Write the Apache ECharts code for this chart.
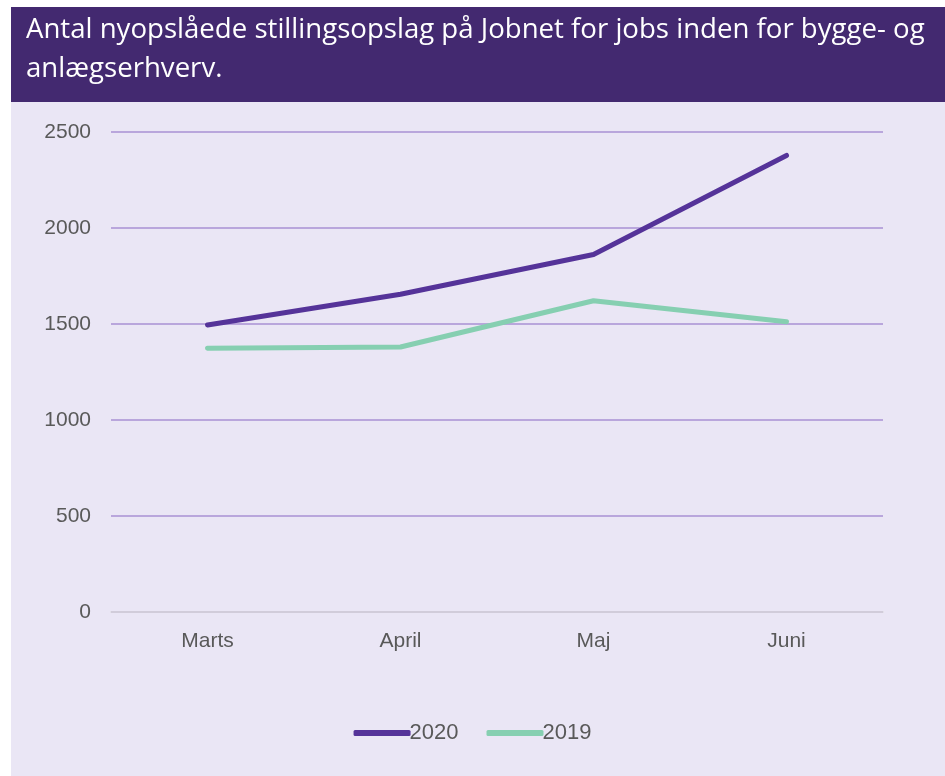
<!DOCTYPE html>
<html><head><meta charset="utf-8">
<script src="https://cdn.jsdelivr.net/npm/echarts@6/dist/echarts.min.js"></script>
<style>html,body{margin:0;padding:0;background:#fff;}#c{width:945px;height:776px;}</style>
</head><body><div id="c"></div>
<script>
const categories = ['Marts', 'April', 'Maj', 'Juni'];
const series2020 = [1495, 1655, 1862, 2378];
const series2019 = [1374, 1380, 1621, 1512];
const yTicks = [0, 500, 1000, 1500, 2000, 2500];
const titleText = 'Antal nyopslåede stillingsopslag på Jobnet for jobs inden for bygge- og\nanlægserhverv.';

const chart = echarts.init(document.getElementById('c'));
chart.setOption({
  animation: false,
  backgroundColor: '#ffffff',
  graphic: [
    { type: 'rect', z: -10, shape: { x: 11, y: 100, width: 934, height: 676 }, style: { fill: '#EAE6F5' } },
    { type: 'rect', z: -10, shape: { x: 11, y: 7, width: 934, height: 95 }, style: { fill: '#432970' } },
    { type: 'text', left: 26, top: 11, style: { text: titleText, fill: '#ffffff', font: '27.6px "Open Sans", sans-serif', lineHeight: 39 } }
  ],
  legend: {
    bottom: 27, left: 'center',
    itemWidth: 57, itemHeight: 6, itemGap: 28,
    icon: 'roundRect',
    textStyle: { color: '#595959', fontSize: 22, fontFamily: 'Liberation Sans, Arial, sans-serif', padding: [0,0,0,-6] },
    data: ['2020', '2019']
  },
  grid: { left: 111, right: 62, top: 132, bottom: 164, containLabel: false },
  xAxis: {
    type: 'category', data: categories, boundaryGap: true,
    axisLine: { lineStyle: { color: '#D9D9D9', width: 1.5 } },
    axisTick: { show: false },
    axisLabel: { color: '#595959', fontSize: 21, fontFamily: 'Liberation Sans, Arial, sans-serif', margin: 19 }
  },
  yAxis: {
    type: 'value', min: yTicks[0], max: yTicks[yTicks.length-1], interval: 500,
    axisLine: { show: false }, axisTick: { show: false },
    axisLabel: { color: '#595959', fontSize: 21, fontFamily: 'Liberation Sans, Arial, sans-serif', margin: 20,
      formatter: v => String(v) },
    splitLine: { lineStyle: { color: '#B9A6DC', width: 2 } }
  },
  series: [
    { name: '2020', type: 'line', data: series2020, symbol: 'none', color: '#553399',
      lineStyle: { width: 5, color: '#553399', cap: 'round', join: 'round' }, z: 3 },
    { name: '2019', type: 'line', data: series2019, symbol: 'none', color: '#86CFB1',
      lineStyle: { width: 5, color: '#86CFB1', cap: 'round', join: 'round' }, z: 2 }
  ]
});
</script></body></html>
